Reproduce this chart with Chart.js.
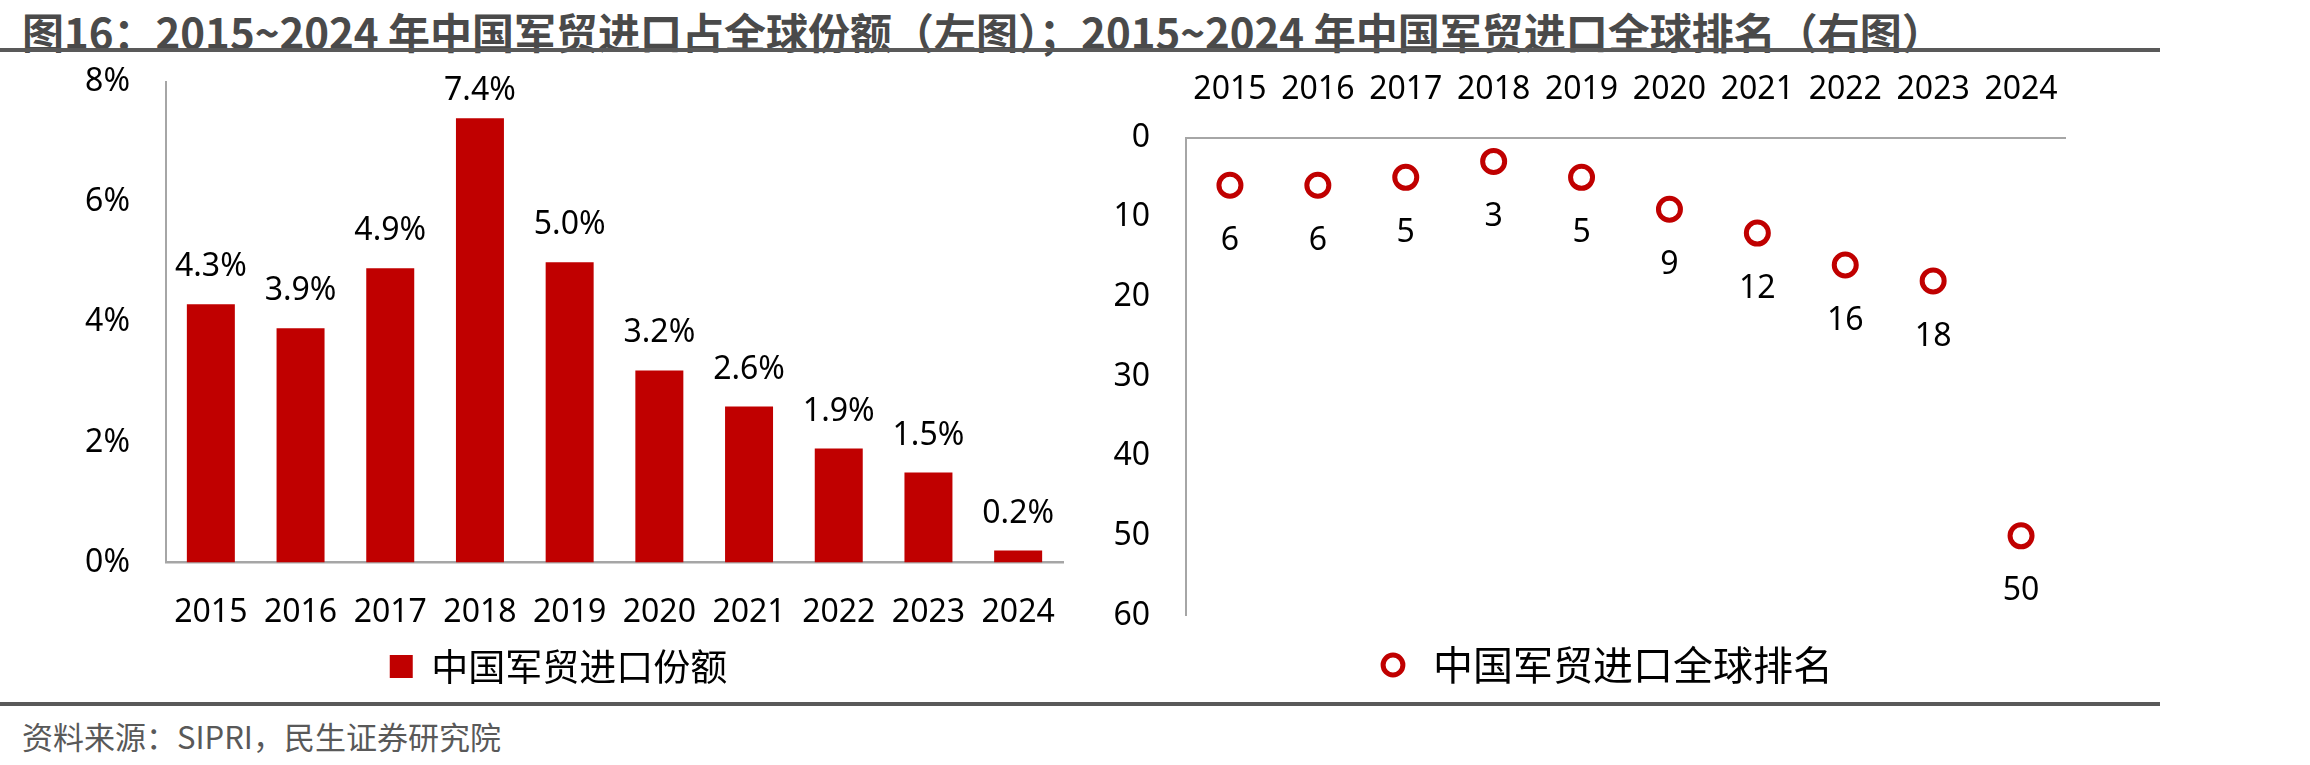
<!DOCTYPE html>
<html lang="zh-CN">
<head>
<meta charset="utf-8">
<title>中国军贸进口占全球份额及全球排名</title>
<script src="https://cdn.jsdelivr.net/npm/chart.js@4.4.1/dist/chart.umd.min.js"></script>
<style>
  html, body { margin: 0; padding: 0; background: #fff; }
  body { width: 2310px; height: 765px; position: relative; overflow: hidden; }
  #titulo {
    position: absolute; left: 22px; top: 0; height: 50px; line-height: 48px;
    font: bold 42px "Noto Sans CJK SC"; color: #4a4a4a; white-space: nowrap;
  }
  .linea { position: absolute; left: 0; width: 2160px; height: 4px; background: #595959; }
  #fuente {
    position: absolute; left: 22px; top: 713px; line-height: 40px;
    font: 31px "Noto Sans CJK SC"; color: #595959; white-space: nowrap;
  }
  .caja { position: absolute; }
  #cajaIzq { left: 0; top: 27px; width: 1110px; height: 673px; }
  #cajaDer { left: 1100px; top: 60px; width: 1016px; height: 640px; }
</style>
</head>
<body>
<div id="titulo">图16：2015~2024 年中国军贸进口占全球份额（左图）；2015~2024 年中国军贸进口全球排名（右图）</div>
<div class="linea" style="top:48px"></div>
<div class="caja" id="cajaIzq"><canvas id="graficoCuota"></canvas></div>
<div class="caja" id="cajaDer"><canvas id="graficoRanking"></canvas></div>
<div class="linea" style="top:702px"></div>
<div id="fuente">资料来源：SIPRI，民生证券研究院</div>

<script>
const anios = ['2015', '2016', '2017', '2018', '2019', '2020', '2021', '2022', '2023', '2024'];
const cuotaImport = [4.3, 3.9, 4.9, 7.4, 5.0, 3.2, 2.6, 1.9, 1.5, 0.2];
const rankingGlobal = [6, 6, 5, 3, 5, 9, 12, 16, 18, 50];
const ticksCuota = [0, 2, 4, 6, 8];
const ticksRanking = [0, 10, 20, 30, 40, 50, 60];

const ROJO = '#C00000';
const GRIS_EJE = '#a6a6a6';
const fuenteNum = { family: 'Noto Sans', size: 32 };

// etiquetas de valor sobre/bajo cada marca (sin salirse del area del grafico)
const etiquetasDatos = {
  id: 'etiquetasDatos',
  afterDatasetsDraw(chart, args, opts) {
    const ctx = chart.ctx;
    const meta = chart.getDatasetMeta(0);
    const valores = chart.data.datasets[0].data;
    const limite = chart.chartArea.top + opts.margenSup;
    ctx.save();
    ctx.font = '32px "Noto Sans"';
    ctx.fillStyle = '#000';
    ctx.textAlign = 'center';
    ctx.textBaseline = 'middle';
    meta.data.forEach((el, i) => {
      const txt = valores[i].toFixed(opts.decimales) + opts.sufijo;
      const y = Math.max(el.y + opts.desplazamiento, limite);
      ctx.fillText(txt, el.x, y);
    });
    ctx.restore();
  }
};

function crearGraficos() {
  Chart.defaults.color = '#000';
  Chart.defaults.animation = false;
  Chart.defaults.maintainAspectRatio = false;
  Chart.defaults.responsive = true;

  new Chart(document.getElementById('graficoCuota'), {
    type: 'bar',
    data: {
      labels: anios,
      datasets: [{
        label: '中国军贸进口份额',
        data: cuotaImport,
        backgroundColor: ROJO,
        borderWidth: 0,
        barPercentage: 0.535,
        categoryPercentage: 1
      }]
    },
    options: {
      // el eje y ya reserva arriba la mitad de la etiqueta + padding
      layout: { padding: { top: 0, bottom: 5, left: 54, right: 47 } },
      scales: {
        x: {
          grid: { display: false, drawTicks: false },
          border: { display: true, color: GRIS_EJE, width: 2.5 },
          ticks: { font: fuenteNum, padding: 31, maxRotation: 0 },
          afterFit: s => { s.height = 75.5; }
        },
        y: {
          min: 0, max: 8,
          grid: { display: false, drawTicks: false },
          border: { display: true, color: GRIS_EJE, width: 2 },
          ticks: { font: fuenteNum, padding: 36, callback: v => v + '%' },
          afterBuildTicks: s => { s.ticks = ticksCuota.map(v => ({ value: v })); },
          afterFit: s => { s.width = 112; }
        }
      },
      plugins: {
        legend: {
          position: 'bottom',
          labels: {
            font: { family: 'Noto Sans CJK SC', size: 37 },
            color: '#000',
            boxWidth: 23, boxHeight: 23, padding: 10
          }
        },
        tooltip: { enabled: false },
        etiquetasDatos: { decimales: 1, sufijo: '%', desplazamiento: -37, margenSup: 8.5 }
      }
    },
    plugins: [etiquetasDatos]
  });

  new Chart(document.getElementById('graficoRanking'), {
    type: 'line',
    data: {
      labels: anios,
      datasets: [{
        label: '中国军贸进口全球排名',
        data: rankingGlobal,
        showLine: false,
        backgroundColor: '#fff',
        borderColor: ROJO,
        borderWidth: 5,
        pointStyle: 'circle',
        pointRadius: 11,
        pointBorderWidth: 5,
        pointBackgroundColor: '#fff',
        pointBorderColor: ROJO
      }]
    },
    options: {
      layout: { padding: { top: 0, bottom: 5, left: 10, right: 20 } },
      scales: {
        x: {
          position: 'top',
          offset: true,
          grid: { display: false, drawTicks: false },
          border: { display: true, color: GRIS_EJE, width: 2 },
          ticks: { font: fuenteNum, padding: 28.5, maxRotation: 0 },
          afterFit: s => { s.height = 77.5; }
        },
        y: {
          reverse: true,
          min: 0, max: 60,
          grid: { display: false, drawTicks: false },
          border: { display: true, color: GRIS_EJE, width: 2 },
          ticks: { font: fuenteNum, padding: 36 },
          afterBuildTicks: s => { s.ticks = ticksRanking.map(v => ({ value: v })); },
          afterFit: s => { s.width = 76; }
        },
        // hueco vacio a la derecha, solo para centrar la leyenda como en el original
        margenDer: {
          position: 'right',
          grid: { display: false, drawTicks: false },
          border: { display: false },
          ticks: { display: false },
          afterFit: s => { s.width = 31; }
        }
      },
      plugins: {
        legend: {
          position: 'bottom',
          labels: {
            font: { family: 'Noto Sans CJK SC', size: 40 },
            color: '#000',
            usePointStyle: true,
            boxWidth: 40, boxHeight: 14, padding: 29.5
          }
        },
        tooltip: { enabled: false },
        etiquetasDatos: { decimales: 0, sufijo: '', desplazamiento: 55.5, margenSup: 0 }
      }
    },
    plugins: [etiquetasDatos]
  });
}

document.fonts.load('32px "Noto Sans"').then(() => document.fonts.load('37px "Noto Sans CJK SC"'))
  .then(crearGraficos, crearGraficos);
</script>
</body>
</html>
